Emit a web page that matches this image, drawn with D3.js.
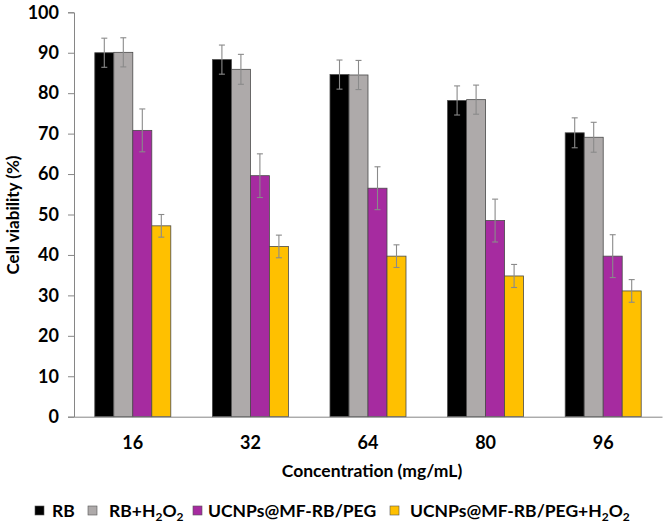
<!DOCTYPE html>
<html><head><meta charset="utf-8">
<script src="https://cdn.jsdelivr.net/npm/d3@7"></script>
<style>body{margin:0;background:#fff}svg{display:block}text{font-family:Lato,"Open Sans",sans-serif;font-weight:bold;fill:#000}</style>
</head><body><svg id="c" width="668" height="527"></svg>
<script>
const categories = ["16","32","64","80","96"];
const seriesNames = ["RB","RB+H2O2","UCNPs@MF-RB/PEG","UCNPs@MF-RB/PEG+H2O2"];
const seriesColors = ["#000000","#aeaaaa","#a62ba0","#ffc000"];
const rbValues = [90.0, 88.3, 84.6, 78.2, 70.2];
const rbErrors = [3.6, 3.6, 3.6, 3.6, 3.7];
const rbH2O2Values = [90.1, 85.9, 84.5, 78.4, 69.1];
const rbH2O2Errors = [3.6, 3.7, 3.6, 3.6, 3.7];
const ucnpValues = [70.8, 59.6, 56.5, 48.5, 39.7];
const ucnpErrors = [5.3, 5.4, 5.3, 5.3, 5.3];
const ucnpH2O2Values = [47.2, 42.1, 39.7, 34.8, 31.1];
const ucnpH2O2Errors = [2.8, 2.8, 2.8, 2.85, 2.8];
const yTicks = [0,10,20,30,40,50,60,70,80,90,100];

const values = [rbValues, rbH2O2Values, ucnpValues, ucnpH2O2Values];
const errors = [rbErrors, rbH2O2Errors, ucnpErrors, ucnpH2O2Errors];

const svg = d3.select("#c");
const mLeft = 74, mRight = 662, mTop = 12.3, mBottom = 416.7;
const x = d3.scaleBand().domain(categories).range([mLeft, mRight]).padding(0);
const groupW = 76;
const x1 = d3.scaleBand().domain(seriesNames).range([0, groupW]).padding(0);
const y = d3.scaleLinear().domain([0,100]).range([mBottom, mTop]);

// y axis
const yAxis = d3.axisLeft(y).tickValues(yTicks).tickSize(6).tickPadding(9);
const ya = svg.append("g").attr("transform",`translate(${mLeft},0)`).call(yAxis);
ya.select(".domain").attr("stroke","#868686");
ya.selectAll(".tick line").attr("stroke","#868686");
ya.selectAll(".tick text").style("font-size","18px").style("font-family","Lato").style("font-weight","bold").attr("fill","#000");

// bars
const off = (x.bandwidth() - groupW) / 2;
seriesNames.forEach((s, si) => {
  const g = svg.append("g");
  categories.forEach((c, ci) => {
    const bx = x(c) + off + x1(s);
    const v = values[si][ci];
    g.append("rect").attr("x", bx).attr("y", y(v)).attr("width", x1.bandwidth()).attr("height", y(0) - y(v))
      .attr("fill", seriesColors[si]).attr("stroke", "#4a4a4a").attr("stroke-width", 0.8);
  });
});
// error bars
seriesNames.forEach((s, si) => {
  categories.forEach((c, ci) => {
    const cx = x(c) + off + x1(s) + x1.bandwidth()/2;
    const v = values[si][ci], e = errors[si][ci];
    const g = svg.append("g").attr("stroke","#8a8a8a").attr("stroke-width",1.1);
    g.append("line").attr("x1",cx).attr("x2",cx).attr("y1",y(v+e)).attr("y2",y(v-e));
    g.append("line").attr("x1",cx-3).attr("x2",cx+3).attr("y1",y(v+e)).attr("y2",y(v+e));
    g.append("line").attr("x1",cx-3).attr("x2",cx+3).attr("y1",y(v-e)).attr("y2",y(v-e));
  });
});

// x axis
const xAxis = d3.axisBottom(x).tickSize(0).tickPadding(20);
const xa = svg.append("g").attr("transform",`translate(0,${mBottom})`).call(xAxis);
xa.select(".domain").attr("stroke","#868686");
xa.selectAll(".tick text").style("font-size","18px").style("font-family","Lato").style("font-weight","bold").attr("fill","#000");

// titles
svg.append("text").attr("x", 372).attr("y", 477).attr("text-anchor","middle").style("font-size","17.5px").text("Concentration (mg/mL)");
svg.append("text").attr("transform","translate(19,215) rotate(-90)").attr("text-anchor","middle").style("font-size","17px").text("Cell viability (%)");

// legend
const legendX = [35, 88, 193, 390];
const lg = svg.append("g");
seriesNames.forEach((s, i) => {
  lg.append("rect").attr("x", legendX[i]).attr("y", 506).attr("width", 9).attr("height", 9)
    .attr("fill", seriesColors[i]).attr("stroke","#555").attr("stroke-width",0.6);
});
const lt = [[52,"RB"],[109,"RB+H2O2"],[208,"UCNPs@MF-RB/PEG"],[410,"UCNPs@MF-RB/PEG+H2O2"]];
lt.forEach(([lx, txt]) => {
  const t = lg.append("text").attr("x", lx).attr("y", 517).style("font-size","17.5px");
  const parts = txt.split(/(H2O2)/);
  parts.forEach(p => {
    if (p === "H2O2") {
      t.append("tspan").text("H");
      t.append("tspan").attr("dy", 4).style("font-size","12px").text("2");
      t.append("tspan").attr("dy", -4).text("O");
      t.append("tspan").attr("dy", 4).style("font-size","12px").text("2");
    } else if (p) t.append("tspan").text(p);
  });
});
</script></body></html>
